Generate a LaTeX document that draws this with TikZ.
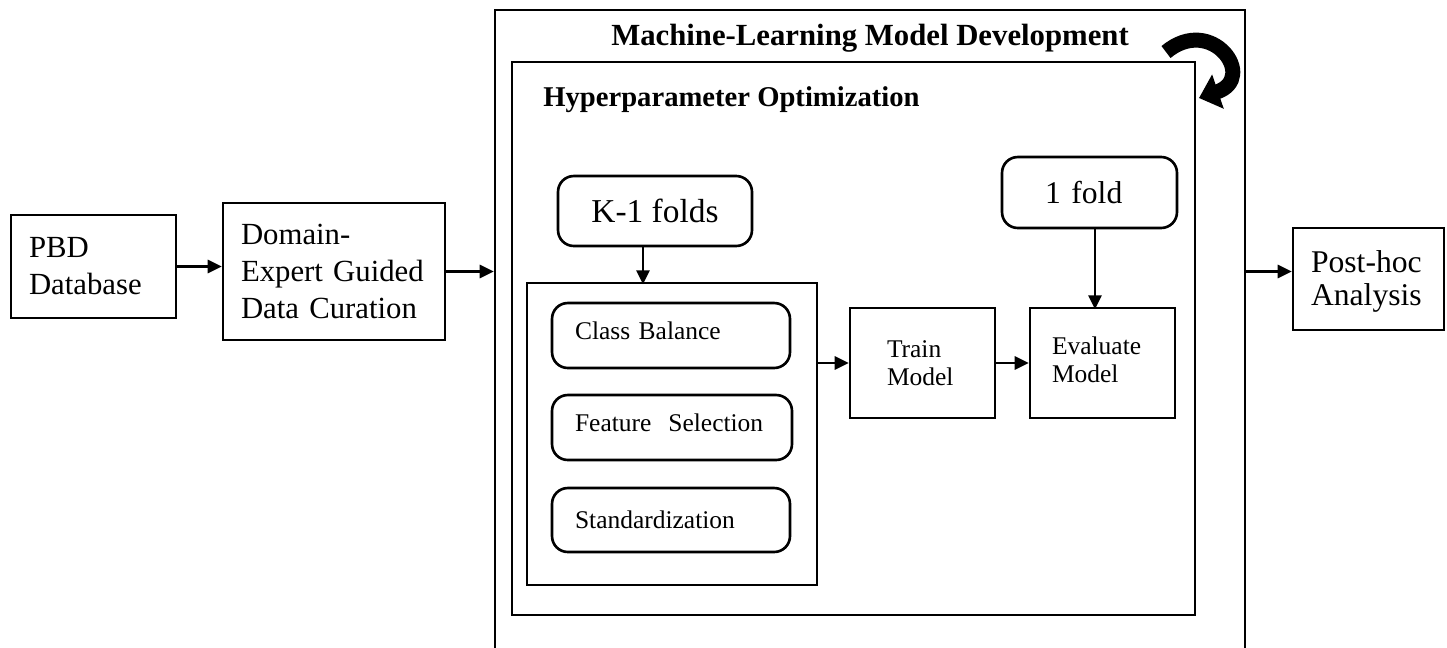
\documentclass[tikz,border=0pt]{standalone}
\usepackage{fontspec}
\setmainfont{Liberation Serif}
\usetikzlibrary{arrows.meta}

\begin{document}
\begin{tikzpicture}[x=0.02cm,y=-0.02cm,>={Triangle[length=8pt,width=7.5pt]},
      box/.style={draw,line width=1.5pt,align=left,inner ysep=0pt},
      rbox/.style={box,rounded corners=9pt},
      big/.style={font=\fontsize{17.5}{21}\selectfont},
      small/.style={font=\fontsize{14.5}{16}\selectfont},
      link/.style={->,line width=1.4pt}]
    \clip (0,0) rectangle (1447,647);
                  % outside the development loop
                  \node[box,big,text width=2.58cm,inner xsep=0.36cm,minimum height=2.06cm]  (pbd)     at (93.5,266.5) {PBD\\Database};
                  \node[box,big,text width=3.72cm,inner xsep=0.36cm,minimum height=2.74cm] (curate)  at (334,271.5)  {Domain-\\Expert Guided\\Data Curation};
                  \node[box,font=\fontsize{18}{19}\selectfont,text width=2.3cm,inner xsep=0.36cm,minimum height=2.04cm] (posthoc) at (1368.5,279) {\rule{0pt}{15pt}Post-hoc\\Analysis};

                  % development frames
                  \node[box,minimum width=15cm,minimum height=13cm]     (ml)    at (870,335)   {};
                  \node[font=\bfseries\fontsize{17.5}{21}\selectfont]   (mltitle) at (870,38) {Machine-Learning Model Development};
                  \node[box,minimum width=13.66cm,minimum height=11.06cm] (hpo)  at (853.5,338.5) {};
                  \node[anchor=west,inner sep=0pt,font=\bfseries\fontsize{16.3}{20}\selectfont] (hpotitle) at (543,100) {Hyperparameter Optimization};

                  % folds and pipeline
                  \node[rbox,font=\fontsize{19}{22}\selectfont,align=center,minimum width=3.88cm,minimum height=1.4cm] (train folds) at (655,211) {K-1 folds};
                  \node[rbox,font=\fontsize{18}{22}\selectfont,text width=1.78cm,inner xsep=0.86cm,minimum height=1.42cm] (test fold) at (1089.5,192.5) {1 fold};
                  \node[box,minimum width=5.8cm,minimum height=6.04cm] (prep) at (672,434) {};
                  \node[rbox,small,text width=3.84cm,inner xsep=0.46cm,minimum height=1.3cm]  (balance) at (671,335.5) {Class Balance\rule[-6pt]{0pt}{6pt}};
                  \node[rbox,small,text width=3.88cm,inner xsep=0.46cm,minimum height=1.3cm]  (select)  at (672,427.5) {Feature\ \ Selection\rule[-6pt]{0pt}{6pt}};
                  \node[rbox,small,text width=3.84cm,inner xsep=0.46cm,minimum height=1.28cm] (standard) at (671,520) {Standardization};
                  \node[box,small,text width=1.42cm,inner xsep=0.74cm,minimum height=2.2cm] (train) at (922.5,363) {Train\\Model};
                  \node[box,small,text width=2.02cm,inner xsep=0.44cm,minimum height=2.2cm] (eval)  at (1102.5,363) {Evaluate\\Model\rule[-4pt]{0pt}{4pt}};

                      \draw[link] (pbd.east) -- (pbd.east -| curate.west);
                      \draw[link] (curate.east) -- (curate.east -| ml.west);
                      \draw[link] ([xshift=-0.24cm]train folds.south) -- ++(0,37);
                      \draw[link] (prep.east |- train.west) -- (train.west);
                      \draw[link] (train) -- (eval);
                      \draw[link] ([xshift=0.11cm]test fold.south) -- ++(0,80);
                      \draw[link] (curate.east -| ml.east) -- (curate.east -| posthoc.west);

                      % repeat loop
                      \draw[line width=0.3cm,-{Triangle[length=0.4cm,width=0.7cm]}]
                               (1166,52) .. controls (1212,14) and (1258,78) .. (1199,98);
        \end{tikzpicture}
\end{document}
